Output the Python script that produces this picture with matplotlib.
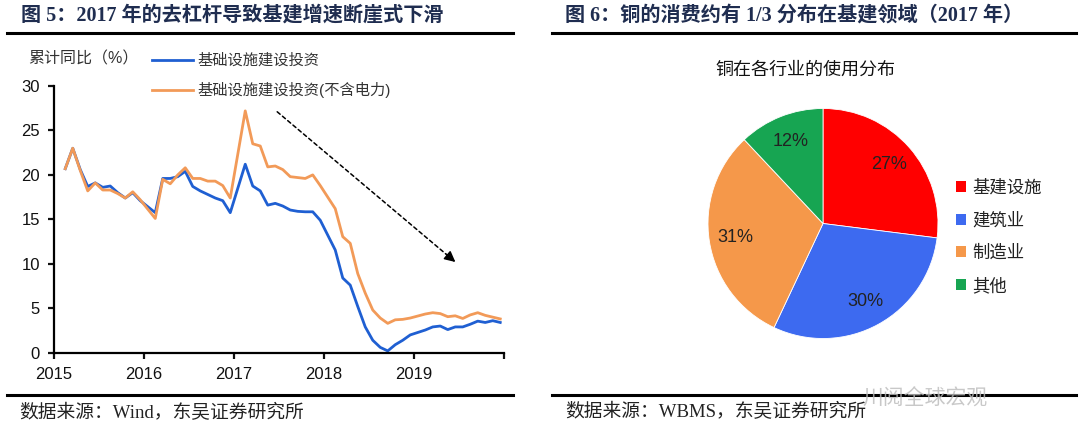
import numpy as np
import matplotlib.pyplot as plt
from matplotlib.patches import Patch

plt.rcParams['font.family'] = ['Liberation Sans', 'Noto Sans CJK SC']
SERIF = ['Liberation Serif', 'Noto Sans CJK SC']

# ---- data: cumulative YoY (%) Feb..Dec of each year 2015-2019
years = [2015, 2016, 2017, 2018, 2019]
months = list(range(2, 13))
infra = [20.7, 23.0, 20.6, 18.7, 19.1, 18.6, 18.75, 18.0, 17.4, 18.0, 17.1,
         15.75, 19.6, 19.6, 19.8, 20.4, 18.7, 18.2, 17.8, 17.4, 17.1, 15.75,
         21.2, 18.75, 18.2, 16.6, 16.8, 16.5, 16.05, 15.9, 15.85, 15.85, 14.9,
         11.55, 8.4, 7.6, 5.2, 2.9, 1.4, 0.6, 0.2, 0.9, 1.4, 2.0,
         2.55, 2.9, 3.0, 2.6, 2.9, 2.9, 3.2, 3.55, 3.4, 3.6, 3.4]
infra_ex_power = [20.7, 23.0, 20.5, 18.2, 19.1, 18.3, 18.3, 17.9, 17.4, 18.1, 17.2,
                  15.1, 19.5, 19.0, 20.0, 20.8, 19.6, 19.6, 19.3, 19.3, 18.8, 17.4,
                  27.2, 23.5, 23.25, 20.9, 21.0, 20.6, 19.8, 19.7, 19.6, 20.0, 18.8,
                  16.2, 13.05, 12.3, 8.9, 6.7, 4.8, 3.9, 3.3, 3.7, 3.75, 3.9,
                  4.35, 4.5, 4.4, 4.05, 4.15, 3.85, 4.25, 4.5, 4.2, 4.0, 3.8]
line_labels = ['基础设施建设投资', '基础设施建设投资(不含电力)']

pie_labels = ['基建设施', '建筑业', '制造业', '其他']
pie_values = [27, 30, 31, 12]
pie_colors = ['#FF0000', '#3D6AF0', '#F5984A', '#17A552']

x = np.array([y + (m - 0.5) / 12 for y in years for m in months])

fig = plt.figure(figsize=(10.8, 4.43), dpi=100)
W, H = 1080, 443


def fx(px):
    return px / W


def fy(py):
    return 1 - py / H


title_color = '#1F2D50'
# ---- headers / footers
fig.text(fx(21), fy(16), '图 5：2017 年的去杠杆导致基建增速断崖式下滑', family=SERIF,
         fontsize=14.5, fontweight='bold', color=title_color, va='center')
fig.text(fx(565), fy(16), '图 6：铜的消费约有 1/3 分布在基建领域（2017 年）', family=SERIF,
         fontsize=14.5, fontweight='bold', color=title_color, va='center')
for x0, x1 in [(7, 513), (552, 1076)]:
    fig.add_artist(plt.Line2D([fx(x0), fx(x1)], [fy(33), fy(33)], color='black', lw=2.2))
    fig.add_artist(plt.Line2D([fx(x0), fx(x1)], [fy(395), fy(395)], color='black', lw=2.2))
fig.text(fx(19), fy(413), '数据来源：Wind，东吴证券研究所', family=SERIF, fontsize=13.5,
         color='#222222', va='center')
fig.text(fx(565), fy(412), '数据来源：WBMS，东吴证券研究所', family=SERIF, fontsize=13.5,
         color='#222222', va='center')
fig.text(fx(862), fy(398), '川阅全球宏观', fontsize=15, color='#BBBBBB', alpha=0.8,
         va='center')

# ---- left: line chart
ax = fig.add_axes([fx(54), fy(352.7), fx(450), (352.7 - 86) / H])
ax.plot(x, infra, color='#1F5FD2', lw=2.0, label=line_labels[0])
ax.plot(x, infra_ex_power, color='#F29A58', lw=2.0, label=line_labels[1])
ax.set_xlim(2015, 2020)
ax.set_ylim(0, 30)
ax.set_xticks([2015, 2016, 2017, 2018, 2019, 2020])
ax.set_xticklabels(['2015', '2016', '2017', '2018', '2019', ''])
ax.set_yticks(range(0, 31, 5))
for s in ['top', 'right']:
    ax.spines[s].set_visible(False)
for s in ['left', 'bottom']:
    ax.spines[s].set_linewidth(1.6)
ax.tick_params(labelsize=12, length=4, width=1.6, direction='out', pad=6, colors='#111111')
ax.set_facecolor('none')

# trend arrow
arrow_start = (2017.48, 27.1)
arrow_end = (2019.46, 10.2)
ax.annotate('', xy=arrow_end, xytext=arrow_start,
            arrowprops=dict(arrowstyle='-', linestyle=(0, (2.5, 2)), color='black', lw=1.1,
                            shrinkA=0, shrinkB=0))
ax.annotate('', xy=arrow_end, xytext=(2019.36, 11.05),
            arrowprops=dict(arrowstyle='-|>', color='black', lw=1.1, mutation_scale=16,
                            shrinkA=0, shrinkB=0))

ax.legend(loc='center left', bbox_to_anchor=(fx(152), fy(76)), bbox_transform=fig.transFigure,
          frameon=False, fontsize=11, handlelength=2.7, handletextpad=0.3, labelspacing=0.95,
          borderpad=0, borderaxespad=0, labelcolor='#333333')
fig.text(fx(28), fy(59), '累计同比（%）', fontsize=11.5, color='#333333', va='center')

# ---- right: pie
pax = fig.add_axes([fx(708), fy(338.5), fx(230), 230 / H])
wedges, _, autotexts = pax.pie(pie_values, colors=pie_colors, startangle=90, counterclock=False,
                               autopct='%d%%', pctdistance=0.77,
                               wedgeprops=dict(edgecolor='white', linewidth=0.6),
                               textprops=dict(fontsize=13, color='#222222'))
pax.set_xlim(-1, 1)
pax.set_ylim(-1, 1)
pax.set_aspect('equal')
fig.text(fx(805), fy(70), '铜在各行业的使用分布', fontsize=13, color='#111111',
         ha='center', va='center')
handles = [Patch(facecolor=c) for c in pie_colors]
fig.legend(handles, pie_labels, loc='center left', bbox_to_anchor=(fx(956), fy(236.7)),
           frameon=False, fontsize=12.5, handlelength=0.6, handleheight=0.6,
           handletextpad=0.35, labelspacing=0.93, borderpad=0, borderaxespad=0,
           labelcolor='#222222')

fig.savefig('out.png', dpi=100)
